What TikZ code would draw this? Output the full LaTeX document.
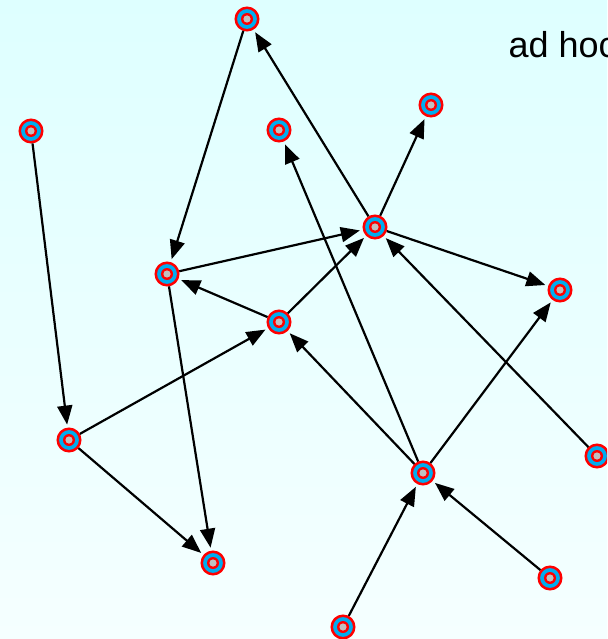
\documentclass[tikz,border=0pt]{standalone}
\usepackage{fontspec}
\setmainfont{Liberation Sans}
\usetikzlibrary{arrows.meta}
\definecolor{bgtop}{RGB}{222,255,255}
\definecolor{bgbot}{RGB}{245,255,255}
\definecolor{coreg}{RGB}{192,192,192}
\tikzset{
  vert/.style={circle, draw=red, line width=2.5pt, fill=cyan,
    minimum size=22.5pt, inner sep=0pt,
    path picture={
      \fill[red] (path picture bounding box.center) circle (6pt);
      \fill[coreg] (path picture bounding box.center) circle (3.6pt);
    }},
  link/.style={line width=2.2pt, draw=black,
    -{Triangle[length=19pt,width=15pt]}, shorten >=3pt}
}
\begin{document}
\begin{tikzpicture}[x=1pt,y=-1pt]
  \useasboundingbox (0,0) rectangle (607,639);
  \clip (0,0) rectangle (607,639);
  \shade[top color=bgtop, bottom color=bgbot] (0,0) rectangle (607,639);

  \node[anchor=base west, font=\fontsize{36}{40}\selectfont] (title) at (505,58) {ad hoc};

  % vertices
  \node[vert] (a) at (247,19) {};
  \node[vert] (b) at (31,131) {};
  \node[vert] (c) at (279,130) {};
  \node[vert] (d) at (431,105) {};
  \node[vert] (e) at (375,227) {};
  \node[vert] (f) at (167,274) {};
  \node[vert] (g) at (560,290) {};
  \node[vert] (h) at (279,322) {};
  \node[vert] (i) at (69,440) {};
  \node[vert] (j) at (597,456) {};
  \node[vert] (k) at (423,473) {};
  \node[vert] (l) at (213,563) {};
  \node[vert] (m) at (550,578) {};
  \node[vert] (n) at (343,627) {};

  % directed links
  \draw[link] (a) -- (f);
  \draw[link] (e) -- (a);
  \draw[link] (e) -- (d);
  \draw[link] (f) -- (e);
  \draw[link] (e) -- (g);
  \draw[link] (h) -- (f);
  \draw[link] (h) -- (e);
  \draw[link] (b) -- (i);
  \draw[link] (i) -- (h);
  \draw[link] (i) -- (l);
  \draw[link] (f) -- (l);
  \draw[link] (k) -- (c);
  \draw[link] (k) -- (h);
  \draw[link] (k) -- (g);
  \draw[link] (j) -- (e);
  \draw[link] (m) -- (k);
  \draw[link] (n) -- (k);
\end{tikzpicture}
\end{document}
